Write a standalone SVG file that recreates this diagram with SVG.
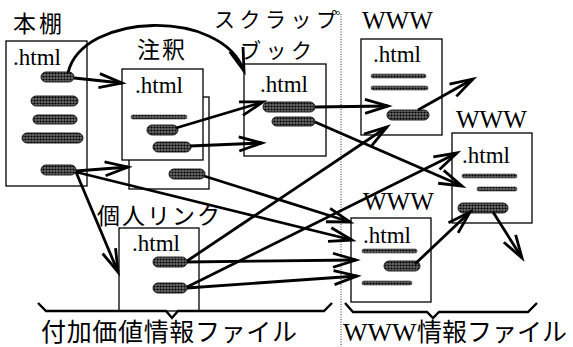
<svg xmlns="http://www.w3.org/2000/svg" width="573" height="347" viewBox="0 0 573 347">
<style>
.box{fill:#fff;stroke:#000;stroke-width:1.3}
.blob{fill:url(#dots);stroke:#111;stroke-width:0.9}
.thin{fill:url(#dots);stroke:#333;stroke-width:0.6}
.ht{font-family:"Liberation Serif","Times New Roman",serif;font-size:23px;fill:#000}
.www{font-family:"Liberation Serif","Times New Roman",serif;font-size:25px;fill:#000}
.jp{font-family:"Noto Sans CJK JP","Noto Sans CJK SC",sans-serif;font-size:23px;fill:#000}
.jps{font-family:"Noto Sans CJK JP","Noto Sans CJK SC",sans-serif;font-size:21px;fill:#000}
.jpb{font-family:"Noto Sans CJK JP","Noto Sans CJK SC",sans-serif;font-size:25px;fill:#000}
.ln{fill:none;stroke:#000;stroke-width:2.8;marker-end:url(#ah)}
.brace{fill:none;stroke:#000;stroke-width:2.4}
</style>
<defs>
<pattern id="dots" width="3" height="3" patternUnits="userSpaceOnUse"><rect width="3" height="3" fill="#6a6a6a"/><circle cx="1.5" cy="1.5" r="1.1" fill="#000"/></pattern>
<marker id="ah" viewBox="-26 -10 32 20" refX="0" refY="0" markerWidth="32" markerHeight="20" markerUnits="userSpaceOnUse" orient="auto"><path d="M -23 -7 L 0 0 L -23 7" fill="none" stroke="#000" stroke-width="2.8"/></marker>
</defs>
<rect width="573" height="347" fill="#fff"/>
<g id="divider">
<line x1="341" y1="14" x2="341" y2="347" stroke="#555" stroke-width="1.2" stroke-dasharray="1 1.5"/>
<circle cx="338" cy="13" r="1.6" fill="none" stroke="#333" stroke-width="0.8"/>
</g>
<g id="hondana">
<text class="jp" x="13" y="32" textLength="49">本棚</text>
<rect class="box" x="6" y="41" width="81" height="145"/>
<text class="ht" x="13" y="65">.html</text>
<rect class="blob" x="41" y="72" width="33" height="10" rx="5"/>
<rect class="blob" x="31" y="96" width="47" height="10" rx="5"/>
<rect class="blob" x="33" y="115" width="44" height="9" rx="4.5"/>
<rect class="blob" x="22" y="133" width="61" height="10" rx="5"/>
<rect class="blob" x="41" y="165" width="35" height="10" rx="5"/>
</g>
<g id="chushaku">
<text class="jp" x="137" y="58" textLength="48">注釈</text>
<rect class="box" x="129" y="97" width="80" height="92"/>
<rect class="blob" x="169" y="169" width="36" height="10" rx="5"/>
<rect class="box" x="122" y="69" width="81" height="91"/>
<text class="ht" x="135" y="93">.html</text>
<rect class="thin" x="131" y="115" width="56" height="4" rx="2"/>
<rect class="blob" x="147" y="125" width="31" height="10" rx="5"/>
<rect class="blob" x="153" y="142" width="38" height="10" rx="5"/>
</g>
<g id="scrapbook">
<text class="jps" x="214" y="27" textLength="123">スクラップ</text>
<text class="jps" x="240" y="58" textLength="72">ブック</text>
<rect class="box" x="244" y="64" width="82" height="92"/>
<text class="ht" x="260" y="92">.html</text>
<rect class="blob" x="263" y="102" width="52" height="10" rx="5"/>
<rect class="blob" x="272" y="117" width="43" height="9" rx="4.5"/>
</g>
<g id="kojin">
<text class="jp" x="97" y="224" textLength="123">個人リンク</text>
<rect class="box" x="119" y="228" width="80" height="83"/>
<text class="ht" x="132" y="251">.html</text>
<rect class="blob" x="153" y="257" width="34" height="10" rx="5"/>
<rect class="blob" x="153" y="283" width="34" height="10" rx="5"/>
</g>
<g id="www1">
<text class="www" x="362" y="29">WWW</text>
<rect class="box" x="361" y="39" width="81" height="96"/>
<text class="ht" x="373" y="62">.html</text>
<rect class="thin" x="371" y="74" width="55" height="4" rx="2"/>
<rect class="thin" x="371" y="86" width="57" height="4" rx="2"/>
<rect class="blob" x="387" y="110" width="42" height="10" rx="5"/>
</g>
<g id="www2">
<text class="www" x="456" y="128">WWW</text>
<rect class="box" x="452" y="133" width="80" height="90"/>
<text class="ht" x="462" y="163">.html</text>
<rect class="thin" x="462" y="174" width="55" height="4" rx="2"/>
<rect class="thin" x="477" y="187" width="40" height="4" rx="2"/>
<rect class="blob" x="458" y="203" width="50" height="10" rx="5"/>
</g>
<g id="www3">
<text class="www" x="363" y="210">WWW</text>
<rect class="box" x="351" y="218" width="80" height="84"/>
<text class="ht" x="363" y="243">.html</text>
<rect class="thin" x="362" y="249" width="55" height="4" rx="2"/>
<rect class="blob" x="384" y="261" width="36" height="10" rx="5"/>
<rect class="thin" x="362" y="281" width="50" height="4" rx="2"/>
</g>
<g id="connectors">
<path class="ln" d="M 68 73 C 82 12, 222 8, 244 71"/>
<path class="ln" d="M 74 78 L 122 83"/>
<path class="ln" d="M 76 171 L 128 167"/>
<path class="ln" d="M 76 172 L 118 272"/>
<path class="ln" d="M 76 172 L 352 240"/>
<path class="ln" d="M 176 128 L 263 102"/>
<path class="ln" d="M 190 146 L 262 143"/>
<path class="ln" d="M 204 176 L 350 222"/>
<path class="ln" d="M 315 107 L 388 106"/>
<path class="ln" d="M 315 122 L 462 186"/>
<path class="ln" d="M 418 110 L 473 79"/>
<path class="ln" d="M 187 261 L 387 127"/>
<path class="ln" d="M 187 262 L 356 260"/>
<path class="ln" d="M 187 288 L 357 276"/>
<path class="ln" d="M 187 287 L 457 153"/>
<path class="ln" d="M 415 264 L 470 212"/>
<path class="ln" d="M 493 212 L 522 258"/>
</g>
<g id="brace-left">
<path class="brace" d="M 38 303 L 46 311 L 166 311 L 172 318 L 178 311 L 324 311 L 332 303"/>
<text class="jpb" x="41" y="341" textLength="256">付加価値情報ファイル</text>
</g>
<g id="brace-right">
<path class="brace" d="M 345 303 L 353 312 L 427 312 L 433 318 L 439 312 L 528 312 L 537 303"/>
<text class="jpb" x="343" y="341"><tspan font-family="Liberation Serif, serif" font-size="26">WWW</tspan><tspan x="417" textLength="150">情報ファイル</tspan></text>
</g>
</svg>
